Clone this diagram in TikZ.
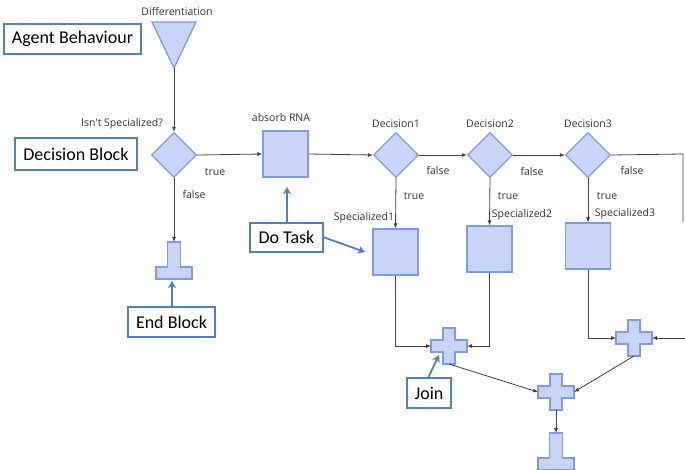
\documentclass[tikz,border=0pt]{standalone}
\usepackage{fontspec}
\setmainfont{Carlito}
\newfontfamily\lblfont{Open Sans}
\usetikzlibrary{shapes.geometric,arrows.meta}
\definecolor{blkfill}{HTML}{C8D5F8}
\definecolor{blkdraw}{HTML}{7E9AE4}
\definecolor{annblue}{HTML}{4F81BD}
\definecolor{conn}{HTML}{404040}
\definecolor{lbl}{HTML}{333333}
\tikzset{
  blk/.style={fill=blkfill,draw=blkdraw,line width=1.3pt},
  taskbox/.style={blk,rectangle,minimum width=45pt,minimum height=46pt,inner sep=0pt},
  decision/.style={blk,diamond,minimum width=45pt,minimum height=45pt,inner sep=0pt},
  ghost/.style={inner sep=0pt,outer sep=0pt},
  lab/.style={text=lbl,font=\lblfont\fontsize{10.5}{12}\selectfont,inner sep=0pt},
  annbox/.style={draw=annblue,line width=1.6pt,fill=white,rectangle,inner sep=0pt,font=\fontsize{18}{20}\selectfont},
  annarrow/.style={draw=annblue,line width=1.8pt,-{Stealth[length=7pt,width=8pt,inset=2pt]}},
  flow/.style={draw=conn,line width=0.8pt,-{Latex[length=5pt,width=4pt]}},
  plain/.style={draw=conn,line width=0.8pt},
}
\newcommand{\joinshape}[3]{%
  \draw[blk,shift={(#2,#3)}] (-6,-18) -- (6,-18) -- (6,-6) -- (18,-6) -- (18,6) -- (6,6) -- (6,18) -- (-6,18) -- (-6,6) -- (-18,6) -- (-18,-6) -- (-6,-6) -- cycle;
  \node[ghost,minimum width=36pt,minimum height=36pt] (#1) at (#2,#3) {};}
\newcommand{\stopshape}[3]{%
  \draw[blk,shift={(#2,#3)}] (-6.5,0) -- (6.5,0) -- (6.5,25) -- (18,25) -- (18,37) -- (-18,37) -- (-18,25) -- (-6.5,25) -- cycle;
  \node[ghost,minimum width=36pt,minimum height=37pt,anchor=north] (#1) at (#2,#3) {};}
\begin{document}
\begin{tikzpicture}[x=1pt,y=-1pt]
\useasboundingbox (0,0) rectangle (685,469);
% start triangle
\draw[blk] (152,22) -- (196,22) -- (174,68) -- cycle;
\coordinate (diff) at (174,68);
\node[lab] (difflbl) at (177,12) {Differentiation};
% decisions
\node[decision] (d0) at (174,155) {};
\node[lab] (d0lbl) at (122,124) {Isn't Specialized?};
\node[taskbox] (absorb) at (285.5,154) {};
\node[lab] (absorblbl) at (281,118) {absorb RNA};
\node[decision] (d1) at (396,155) {};
\node[lab] (d1lbl) at (396,124) {Decision1};
\node[decision] (d2) at (490,155) {};
\node[lab] (d2lbl) at (490,124) {Decision2};
\node[decision] (d3) at (588,155) {};
\node[lab] (d3lbl) at (588,124) {Decision3};
% specialized boxes
\node[taskbox] (s1) at (395.5,252) {};
\node[lab] (s1lbl) at (364,218) {Specialized1};
\node[taskbox] (s2) at (489.5,249) {};
\node[lab] (s2lbl) at (522,215) {Specialized2};
\node[taskbox] (s3) at (588,246) {};
\node[lab] (s3lbl) at (625,214) {Specialized3};
% true/false labels
\node[lab] (t0) at (215,172) {true};
\node[lab] (f0) at (194,195) {false};
\node[lab] (f1) at (438,171) {false};
\node[lab] (t1) at (414,196) {true};
\node[lab] (f2) at (532,172) {false};
\node[lab] (t2) at (508,196) {true};
\node[lab] (f3) at (632,171) {false};
\node[lab] (t3) at (607,196) {true};
% end and join shapes
\stopshape{end1}{174}{242}
\joinshape{j1}{449}{346}
\joinshape{j2}{634}{338}
\joinshape{j3}{556}{392}
\stopshape{end2}{556}{433}
% connectors
\draw[flow] (diff) -- (d0.north);
\draw[flow] (d0.east) -- (absorb.west);
\draw[flow] (absorb.east) -- (d1.west);
\draw[flow] (d1.east) -- (d2.west);
\draw[flow] (d2.east) -- (d3.west);
\coordinate (rtop) at (683,154);
\coordinate (rbot) at (683,222);
\draw[plain] (d3.east) -- (rtop) -- (rbot);
\draw[flow] (d0.south) -- (end1.north);
\draw[flow] (d1.south) -- (s1.north);
\draw[flow] (d2.south) -- (s2.north);
\draw[flow] (d3.south) -- (s3.north);
\draw[flow] (s1.south) |- (j1.west);
\draw[flow] (s2.south) |- (j1.east);
\draw[flow] (s3.south) |- (j2.west);
\coordinate (rin) at (686,338);
\draw[flow] (rin) -- (j2.east);
\draw[flow] (j1.south) -- (j3.west);
\draw[flow] (j2.south) -- (j3.east);
\draw[flow] (j3.south) -- (end2.north);
% annotations
\node[annbox,minimum width=137pt,minimum height=30pt] (aAgent) at (72.5,39) {Agent Behaviour};
\node[annbox,minimum width=122pt,minimum height=32pt] (aDec) at (76,154) {Decision Block};
\node[annbox,minimum width=73pt,minimum height=29pt] (aTask) at (286.5,237.5) {Do Task};
\node[annbox,minimum width=87pt,minimum height=30pt] (aEnd) at (171.5,322) {End Block};
\node[annbox,minimum width=44pt,minimum height=30pt] (aJoin) at (429,393) {Join};
\coordinate (tipEnd) at (172,281);
\coordinate (tipTask1) at (287,187);
\coordinate (tipTask2) at (365,252);
\coordinate (tipJoin) at (439,355);
\coordinate (tailTask2) at (323,237);
\coordinate (tailJoin) at (428,378);
\draw[annarrow] (aEnd.north -| tipEnd) -- (tipEnd);
\draw[annarrow] (aTask.north -| tipTask1) -- (tipTask1);
\draw[annarrow] (tailTask2) -- (tipTask2);
\draw[annarrow] (tailJoin) -- (tipJoin);
\end{tikzpicture}
\end{document}
